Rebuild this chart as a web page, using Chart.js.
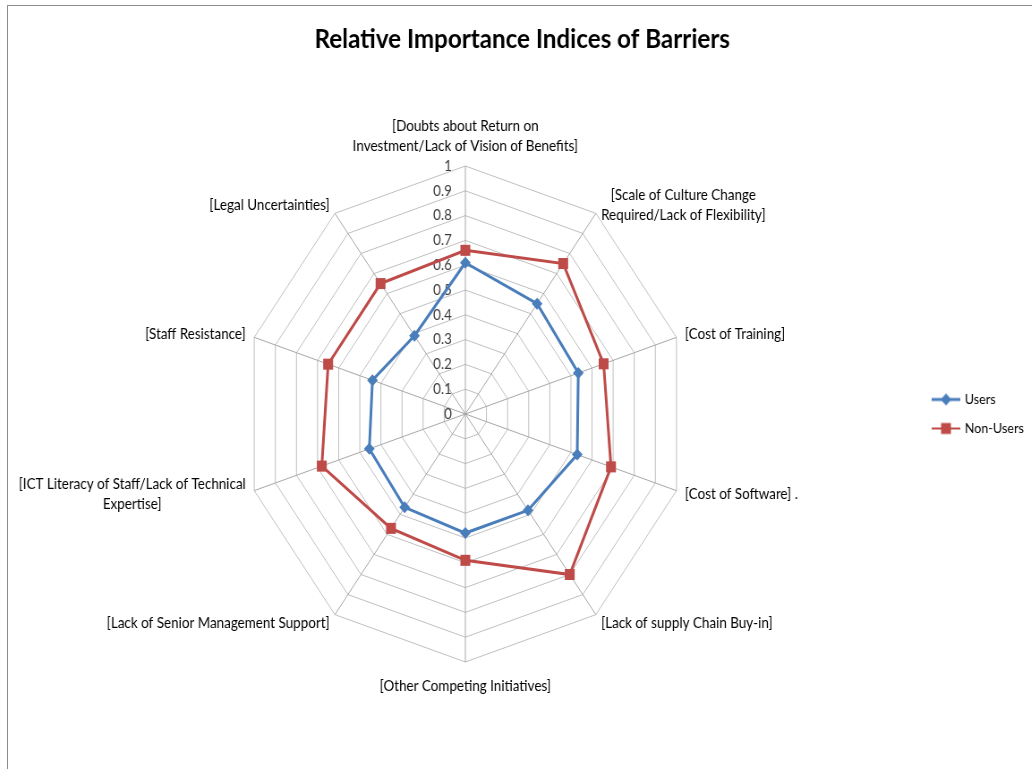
<!DOCTYPE html>
<html>
<head>
<meta charset="utf-8">
<script src="https://cdn.jsdelivr.net/npm/chart.js@4.4.0/dist/chart.umd.min.js"></script>
<style>
  html, body { margin: 0; padding: 0; background: #fff; }
  #frame { position: absolute; left: 7px; top: 5px; width: 1025px; height: 764px; border-top: 1px solid #8c8c8c; border-left: 1px solid #8c8c8c; overflow: hidden; }
  #squeeze { width: 1145px; height: 763px; transform: scaleX(0.895); transform-origin: 0 0; }
</style>
</head>
<body>
<div id="frame"><div id="squeeze"><canvas id="radar" width="1145" height="763"></canvas></div></div>
<script>
// ====== DADOS ======
const barriers = [
  ["[Doubts about Return on", "Investment/Lack of Vision of Benefits]"],
  ["[Scale of Culture Change", "Required/Lack of Flexibility]"],
  "[Cost of Training]",
  "[Cost of Software] .",
  "[Lack of supply Chain Buy-in]",
  "[Other Competing Initiatives]",
  "[Lack of Senior Management Support]",
  ["[ICT Literacy of Staff/Lack of Technical", "Expertise]"],
  "[Staff Resistance]",
  "[Legal Uncertainties]"
];
const usersRii = [0.61, 0.55, 0.535, 0.53, 0.48, 0.48, 0.465, 0.455, 0.44, 0.39];
const nonUsersRii = [0.66, 0.75, 0.655, 0.69, 0.80, 0.59, 0.57, 0.68, 0.65, 0.65];
const tickValues = [0, 0.1, 0.2, 0.3, 0.4, 0.5, 0.6, 0.7, 0.8, 0.9, 1];
const tickLabels = ["0", "0.1", "0.2", "0.3", "0.4", "0.5", "0.6", "0.7", "0.8", "0.9", "1"];

const BLUE = "#4A7EBB";
const RED = "#BE4B48";
const FONT = "Lato, 'Open Sans', sans-serif";

// ====== ICONES DA LEGENDA (linha + marcador, estilo Excel) ======
function legendIcon(color, marker, lineWidth) {
  const c = document.createElement("canvas");
  c.width = 32; c.height = 16;
  const g = c.getContext("2d");
  g.strokeStyle = color;
  g.lineWidth = lineWidth;
  g.beginPath(); g.moveTo(0, 8); g.lineTo(32, 8); g.stroke();
  g.fillStyle = color;
  g.beginPath();
  if (marker === "diamond") {
    g.moveTo(16, 2); g.lineTo(22, 8); g.lineTo(16, 14); g.lineTo(10, 8); g.closePath();
  } else {
    g.rect(10.5, 2.5, 11, 11);
  }
  g.fill();
  return c;
}
const legendIcons = [legendIcon(BLUE, "diamond", 3), legendIcon(RED, "square", 2)];

// ====== RÓTULOS: ticks à esquerda do eixo do topo + categorias estilo Excel ======
const excelLabelsPlugin = {
  id: "excelLabels",
  beforeDatasetsDraw(chart) {
    const r = chart.scales.r;
    const ctx = chart.ctx;
    ctx.save();
    ctx.font = "15px " + FONT;
    ctx.fillStyle = "#404040";
    ctx.textAlign = "right";
    ctx.textBaseline = "middle";
    tickValues.forEach((v, i) => {
      const d = r.getDistanceFromCenterForValue(v);
      ctx.fillText(tickLabels[i], r.xCenter - 15, r.yCenter - d);
    });

    ctx.fillStyle = "#000";
    ctx.textAlign = "center";
    const lineH = 20;
    const n = barriers.length;
    barriers.forEach((lab, i) => {
      const lines = Array.isArray(lab) ? lab : [lab];
      const blockW = Math.max(...lines.map(l => ctx.measureText(l).width));
      const blockH = lines.length * lineH;
      const pt = r.getPointPosition(i, r.drawingArea + 10);
      const ang = i * 360 / n;
      let cx = pt.x, top = pt.y - blockH / 2;
      if (ang > 0.5 && ang < 179.5) cx = pt.x + blockW / 2;
      else if (ang > 180.5) cx = pt.x - blockW / 2;
      if (ang < 0.5) top = pt.y - blockH;
      else if (Math.abs(ang - 180) < 0.5) top = pt.y + 4;
      lines.forEach((l, k) => ctx.fillText(l, cx, top + lineH * (k + 0.5)));
    });
    ctx.restore();
  }
};

// ====== GRÁFICO ======
const ctx = document.getElementById("radar").getContext("2d");
new Chart(ctx, {
  type: "radar",
  data: {
    labels: barriers,
    datasets: [
      {
        label: "Users", data: usersRii,
        borderColor: BLUE, backgroundColor: BLUE, borderWidth: 3, fill: false,
        pointStyle: "rectRot", pointRadius: 6, pointBackgroundColor: BLUE, pointBorderWidth: 0
      },
      {
        label: "Non-Users", data: nonUsersRii,
        borderColor: RED, backgroundColor: RED, borderWidth: 3, fill: false,
        pointStyle: "rect", pointRadius: 7.8, pointBackgroundColor: RED, pointBorderWidth: 0
      }
    ]
  },
  options: {
    responsive: false,
    animation: false,
    layout: { padding: { left: 4, right: 0, top: 0, bottom: 107 } },
    plugins: {
      title: {
        display: true, text: "Relative Importance Indices of Barriers", color: "#000",
        font: { family: FONT, size: 27, weight: "bold" },
        padding: { top: 17, bottom: 110.6 }
      },
      legend: {
        position: "right",
        fullSize: false,
        labels: {
          color: "#000", font: { family: FONT, size: 14 }, padding: 15,
          usePointStyle: true, pointStyleWidth: 28,
          generateLabels(chart) {
            return chart.data.datasets.map((ds, i) => ({
              text: ds.label, datasetIndex: i, pointStyle: legendIcons[i],
              fillStyle: ds.borderColor, strokeStyle: ds.borderColor, lineWidth: 0,
              fontColor: "#000", hidden: false
            }));
          }
        }
      },
      tooltip: { enabled: false }
    },
    scales: {
      r: {
        min: 0, max: 1,
        ticks: { display: false, stepSize: 0.1 },
        grid: { color: "#BFBFBF", lineWidth: 1 },
        angleLines: { color: "#A6A6A6", lineWidth: 1 },
        pointLabels: { display: false }
      }
    }
  },
  plugins: [excelLabelsPlugin]
});
</script>
</body>
</html>
